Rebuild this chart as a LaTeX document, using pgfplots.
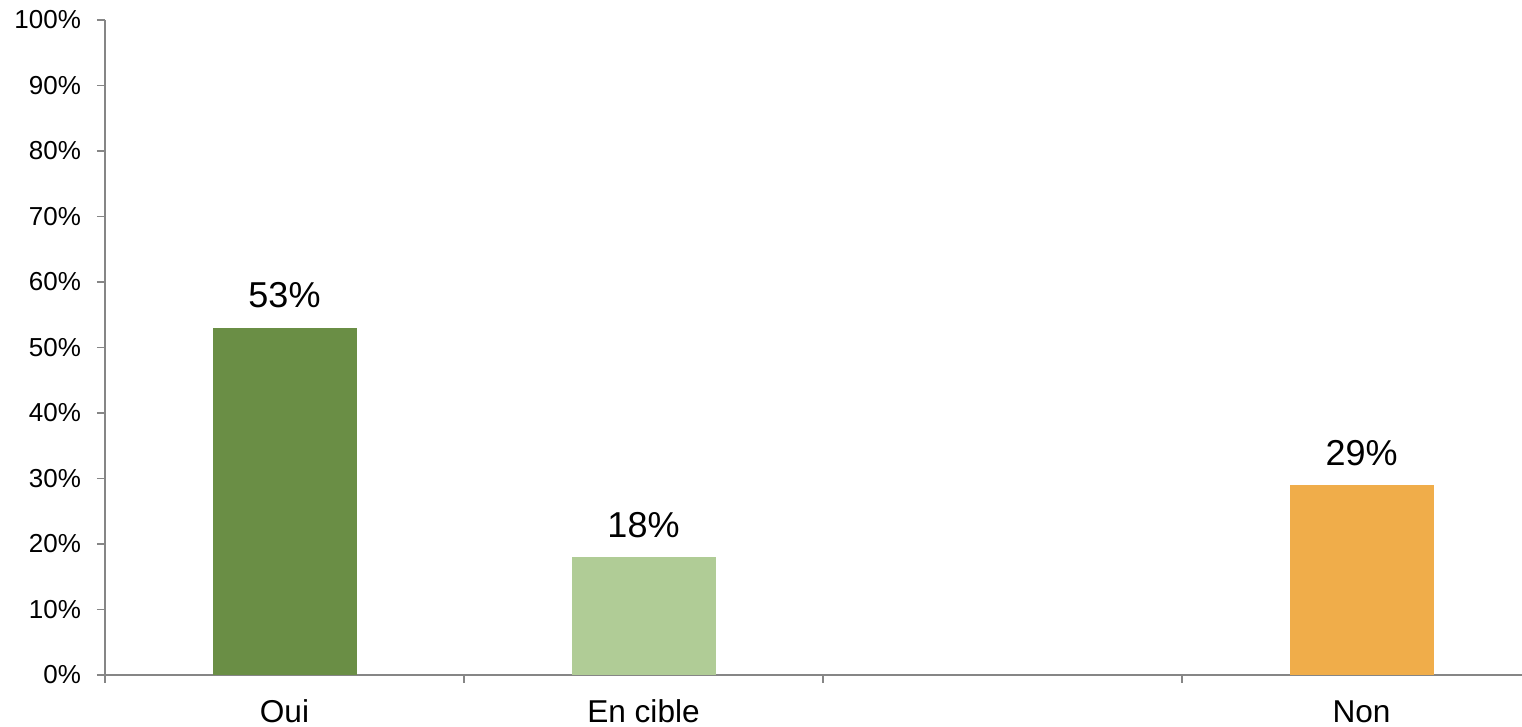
\documentclass[border=0pt]{standalone}
\usepackage{fontspec}
\setmainfont{Liberation Sans}
\usepackage{pgfplots}
\pgfplotsset{compat=1.18}
\definecolor{axgray}{RGB}{134,134,134}
\definecolor{cdark}{RGB}{106,142,69}
\definecolor{clight}{RGB}{176,204,150}
\definecolor{corange}{RGB}{240,173,74}
\begin{document}
\begin{tikzpicture}
\begin{axis}[
  scale only axis,
  width=708.5pt, height=327.5pt,
  xmin=-0.5, xmax=3.447,
  ymin=0, ymax=100,
  axis lines=left,
  axis line style={-, axgray, line width=1pt},
  tick style={axgray, line width=0.8pt},
  tick align=outside,
  ytick={0,10,...,100},
  yticklabel={\pgfmathprintnumber{\tick}\%},
  /pgf/number format/assume math mode=true,
  yticklabel style={font=\fontsize{13}{15}\selectfont, xshift=-4.5pt},
  major tick length=4pt,
  xtick={-0.5,0.5,1.5,2.5},
  xticklabels={},
  extra x ticks={0,1,3},
  extra x tick labels={Oui,En cible,Non},
  extra x tick style={major tick length=0pt, tick style={draw=none},
    xticklabel style={font=\fontsize{15.8}{18}\selectfont, anchor=base, yshift=-24pt}},
  ybar, bar width=72pt, bar shift=0pt,
  nodes near coords={\pgfmathprintnumber{\pgfplotspointmeta}\%},
  nodes near coords style={font=\fontsize{18}{20}\selectfont, anchor=base, yshift=10pt, /pgf/number format/assume math mode=true},
  clip=false,
]
\addplot[fill=cdark, draw=none] coordinates {(0,53)};
\addplot[fill=clight, draw=none] coordinates {(1,18)};
\addplot[fill=corange, draw=none] coordinates {(3,29)};
\end{axis}
\pgfresetboundingbox
\path[use as bounding box] (-52.5pt,-26pt) rectangle (708.5pt,337.5pt);
\end{tikzpicture}
\end{document}
